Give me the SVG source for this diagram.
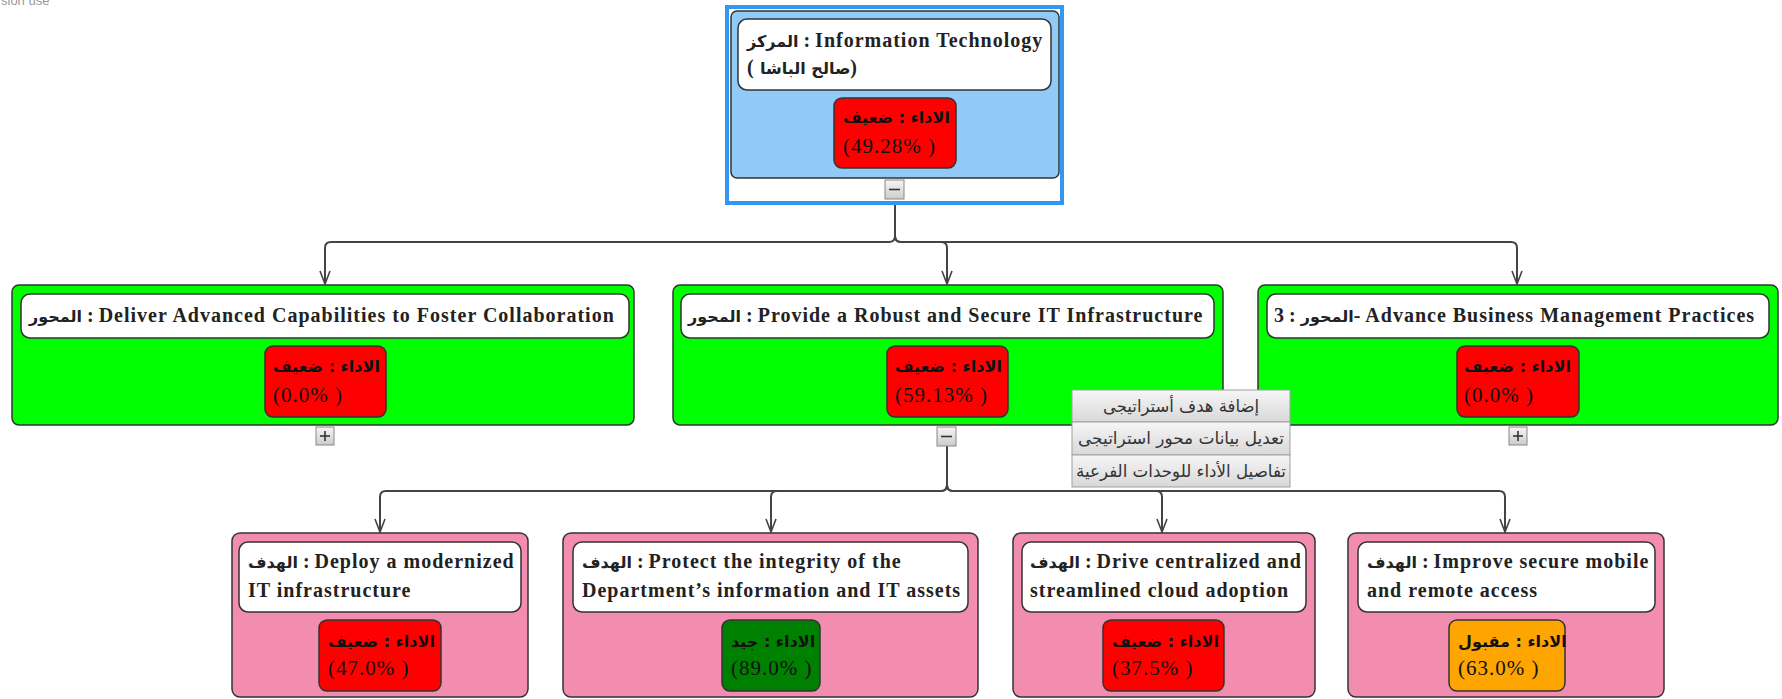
<svg xmlns="http://www.w3.org/2000/svg" width="1782" height="699" viewBox="0 0 1782 699">
<style>
.t{font-family:"Liberation Serif","DejaVu Serif",serif;font-weight:bold;font-size:20px;letter-spacing:1px;fill:#222}
.ar{font-family:"DejaVu Sans",sans-serif;font-weight:bold;font-size:16px;letter-spacing:0}
.p1{font-family:"DejaVu Sans",sans-serif;font-weight:bold;font-size:16px;fill:#111}
.p2{font-family:"Liberation Serif",serif;font-size:21px;letter-spacing:1px;fill:#111}
.box{stroke:#333;stroke-width:1.5}
.ttl{fill:#fff;stroke:#333;stroke-width:1.5}
.red{fill:#ff0000;stroke:#333;stroke-width:1.5}
.c{fill:none;stroke:#444;stroke-width:2;marker-end:url(#arr)}
.btn{fill:url(#bg);stroke:#888;stroke-width:1}
.sym{stroke:#333;stroke-width:1.6}
.mi{fill:url(#mg);stroke:#a0a0a0;stroke-width:1}
.mt{font-family:"DejaVu Sans",sans-serif;font-size:17px;fill:#333;text-anchor:middle}
</style>
<defs>
<linearGradient id="bg" x1="0" y1="0" x2="0" y2="1"><stop offset="0" stop-color="#f6f6f6"/><stop offset="1" stop-color="#cccccc"/></linearGradient>
<linearGradient id="mg" x1="0" y1="0" x2="0" y2="1"><stop offset="0" stop-color="#f6f6f6"/><stop offset="1" stop-color="#d8d8d8"/></linearGradient>
<marker id="arr" viewBox="-14 -7 16 14" refX="0" refY="0" markerWidth="16" markerHeight="14" markerUnits="userSpaceOnUse" orient="auto" overflow="visible">
<path d="M-13,-5 L0,0 L-13,5" fill="none" stroke="#444" stroke-width="1.6"/>
</marker>
</defs>
<rect width="1782" height="699" fill="#fff"/>
<text x="1" y="5" style="font-family:'Liberation Sans',sans-serif;font-size:13px;fill:#999">sion use</text>

<g id="connectors">
<path class="c" d="M895,200 V236 Q895,242 889,242 H331 Q325,242 325,248 V284"/>
<path class="c" d="M895,200 V236 Q895,242 901,242 H941 Q947,242 947,248 V284"/>
<path class="c" d="M895,200 V236 Q895,242 901,242 H1511 Q1517,242 1517,248 V284"/>
<path class="c" d="M947,446 V485 Q947,491 941,491 H386 Q380,491 380,497 V532"/>
<path class="c" d="M947,446 V485 Q947,491 941,491 H777 Q771,491 771,497 V532"/>
<path class="c" d="M947,446 V485 Q947,491 953,491 H1156 Q1162,491 1162,497 V532"/>
<path class="c" d="M947,446 V485 Q947,491 953,491 H1499 Q1505,491 1505,497 V532"/>
</g>

<g id="node-center">
<rect x="727" y="7" width="335" height="196" fill="#fff" stroke="#3596f0" stroke-width="4"/>
<rect class="box" x="731" y="11" width="328" height="167" rx="6" fill="#91c9f7"/>
<rect class="ttl" x="738" y="19" width="313" height="71" rx="9"/>
<text class="t" x="747" y="47"><tspan class="ar">المركز</tspan> : Information Technology</text>
<text class="t" x="747" y="74" style="letter-spacing:0">(</text>
<text class="t" x="760" y="74" style="letter-spacing:0"><tspan class="ar">صالح الباشا</tspan>)</text>
<rect class="red" x="834" y="98" width="122" height="70" rx="8"/>
<text class="p1" x="843" y="123">الاداء : ضعيف</text>
<text class="p2" x="843" y="153">(49.28% )</text>
<rect class="btn" x="885" y="180" width="19" height="19"/>
<line class="sym" x1="889" y1="189.5" x2="900" y2="189.5"/>
</g>

<g id="axis-1">
<rect class="box" x="12" y="285" width="622" height="140" rx="7" fill="#00ff00"/>
<rect class="ttl" x="21" y="294" width="608" height="44" rx="9"/>
<text class="t" x="29" y="322"><tspan class="ar">المحور</tspan> :  Deliver Advanced Capabilities to Foster Collaboration</text>
<rect class="red" x="265" y="346" width="121" height="71" rx="8"/>
<text class="p1" x="273" y="372">الاداء : ضعيف</text>
<text class="p2" x="273" y="402">(0.0% )</text>
<rect class="btn" x="316" y="427" width="18" height="18"/>
<line class="sym" x1="320" y1="436" x2="330" y2="436"/>
<line class="sym" x1="325" y1="431" x2="325" y2="441"/>
</g>

<g id="axis-2">
<rect class="box" x="673" y="285" width="550" height="140" rx="7" fill="#00ff00"/>
<rect class="ttl" x="681" y="294" width="533" height="44" rx="9"/>
<text class="t" x="688" y="322"><tspan class="ar">المحور</tspan> : Provide a Robust and Secure IT Infrastructure</text>
<rect class="red" x="887" y="346" width="121" height="71" rx="8"/>
<text class="p1" x="895" y="372">الاداء : ضعيف</text>
<text class="p2" x="895" y="402">(59.13% )</text>
<rect class="btn" x="937" y="427" width="19" height="19"/>
<line class="sym" x1="941" y1="436.5" x2="952" y2="436.5"/>
</g>

<g id="axis-3">
<rect class="box" x="1258" y="285" width="520" height="140" rx="7" fill="#00ff00"/>
<rect class="ttl" x="1267" y="294" width="502" height="44" rx="9"/>
<text class="t" x="1274" y="322"><tspan class="ar">المحور</tspan> : 3- Advance Business Management Practices</text>
<rect class="red" x="1457" y="346" width="122" height="71" rx="8"/>
<text class="p1" x="1464" y="372">الاداء : ضعيف</text>
<text class="p2" x="1464" y="402">(0.0% )</text>
<rect class="btn" x="1509" y="427" width="18" height="18"/>
<line class="sym" x1="1513" y1="436" x2="1523" y2="436"/>
<line class="sym" x1="1518" y1="431" x2="1518" y2="441"/>
</g>

<g id="context-menu">
<rect class="mi" x="1072" y="390" width="218" height="32"/>
<text class="mt" x="1181" y="412" textLength="156" lengthAdjust="spacingAndGlyphs">إضافة هدف أستراتيجى</text>
<rect class="mi" x="1072" y="422" width="218" height="33"/>
<text class="mt" x="1181" y="444" textLength="206" lengthAdjust="spacingAndGlyphs">تعديل بيانات محور استراتيجى</text>
<rect class="mi" x="1072" y="455" width="218" height="32"/>
<text class="mt" x="1181" y="477" textLength="210" lengthAdjust="spacingAndGlyphs">تفاصيل الأداء للوحدات الفرعية</text>
</g>

<g id="goal-1">
<rect class="box" x="232" y="533" width="296" height="164" rx="8" fill="#f28db0"/>
<rect class="ttl" x="239" y="542" width="282" height="70" rx="9"/>
<text class="t" x="248" y="568"><tspan class="ar">الهدف</tspan> : Deploy a modernized</text>
<text class="t" x="248" y="597">IT infrastructure</text>
<rect class="red" x="319" y="620" width="122" height="71" rx="8"/>
<text class="p1" x="328" y="647">الاداء : ضعيف</text>
<text class="p2" x="328" y="675">(47.0% )</text>
</g>

<g id="goal-2">
<rect class="box" x="563" y="533" width="415" height="164" rx="8" fill="#f28db0"/>
<rect class="ttl" x="573" y="542" width="395" height="70" rx="9"/>
<text class="t" x="582" y="568"><tspan class="ar">الهدف</tspan> : Protect the integrity of the</text>
<text class="t" x="582" y="597">Department’s information and IT assets</text>
<rect class="box" x="722" y="620" width="98" height="71" rx="8" fill="#008000"/>
<text class="p1" x="731" y="647">الاداء : جيد</text>
<text class="p2" x="731" y="675">(89.0% )</text>
</g>

<g id="goal-3">
<rect class="box" x="1013" y="533" width="302" height="164" rx="8" fill="#f28db0"/>
<rect class="ttl" x="1022" y="542" width="284" height="70" rx="9"/>
<text class="t" x="1030" y="568"><tspan class="ar">الهدف</tspan> : Drive centralized and</text>
<text class="t" x="1030" y="597">streamlined cloud adoption</text>
<rect class="red" x="1103" y="620" width="121" height="71" rx="8"/>
<text class="p1" x="1112" y="647">الاداء : ضعيف</text>
<text class="p2" x="1112" y="675">(37.5% )</text>
</g>

<g id="goal-4">
<rect class="box" x="1348" y="533" width="316" height="164" rx="8" fill="#f28db0"/>
<rect class="ttl" x="1358" y="542" width="297" height="70" rx="9"/>
<text class="t" x="1367" y="568"><tspan class="ar">الهدف</tspan> : Improve secure mobile</text>
<text class="t" x="1367" y="597">and remote access</text>
<rect class="box" x="1449" y="620" width="116" height="71" rx="8" fill="#ffa500"/>
<text class="p1" x="1458" y="647">الاداء : مقبول</text>
<text class="p2" x="1458" y="675">(63.0% )</text>
</g>
</svg>
